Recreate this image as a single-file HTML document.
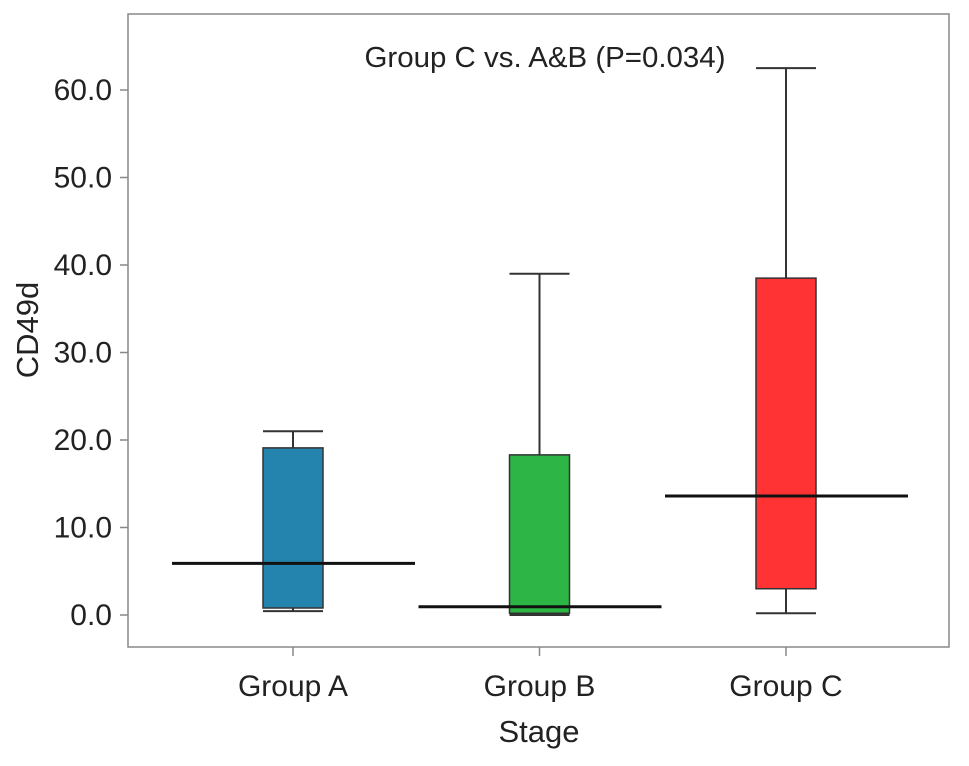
<!DOCTYPE html>
<html><head><meta charset="utf-8"><style>
body{margin:0;background:#fff;font-family:"Liberation Sans",sans-serif}
</style></head><body>
<svg id="c" width="969" height="761" xmlns="http://www.w3.org/2000/svg">
<rect x="128" y="14" width="821" height="633" fill="none" stroke="#888" stroke-width="1.5"/>
<text x="545" y="67" font-size="29" textLength="361" lengthAdjust="spacingAndGlyphs" text-anchor="middle" fill="#222">Group C vs. A&amp;B (P=0.034)</text>
<text x="539" y="742" font-size="31" text-anchor="middle" fill="#222">Stage</text>
<text transform="translate(38,330) rotate(-90)" font-size="31" text-anchor="middle" fill="#222">CD49d</text>
<g id="g"></g>
</svg>
<script>
const categories=["Group A","Group B","Group C"];
const mins=[0.45,0.0,0.2];
const q1s=[0.8,0.2,3.0];
const medians=[5.9,0.95,13.6];
const q3s=[19.1,18.3,38.5];
const maxs=[21.0,39.0,62.5];
const colors=["#2584ad","#2db546","#ff3333"];
const yTicks=[0,10,20,30,40,50,60];
const tickLabels=["0.0","10.0","20.0","30.0","40.0","50.0","60.0"];
const y=v=>615-v*8.75;
const x=i=>293+i*246.5;
const NS="http://www.w3.org/2000/svg";
const g=document.getElementById('g');
function mk(t,a){const e=document.createElementNS(NS,t);for(const k in a)e.setAttribute(k,a[k]);g.appendChild(e);return e;}
yTicks.forEach((v,i)=>{
 const t=mk('line',{x1:120,x2:128,y1:y(v),y2:y(v),stroke:'#888','stroke-width':1.5});
 
 
 const l=mk('text',{x:112,y:y(v)+10,'font-size':30,'text-anchor':'end',fill:'#222'});
 l.textContent=tickLabels[i];
 
 
});
categories.forEach((c,i)=>{
 const cx=x(i);
 const t=mk('line',{x1:cx,x2:cx,y1:647,y2:656,stroke:'#888','stroke-width':1.5});
 
 
 const l=mk('text',{x:cx,y:696,'font-size':30,'text-anchor':'middle',fill:'#222'});
 l.textContent=c;
 
 
 const w1=mk('line',{x1:cx,x2:cx,y1:y(maxs[i]),y2:y(q3s[i]),stroke:'#333','stroke-width':2});
 
 
 const c1=mk('line',{x1:cx-30,x2:cx+30,y1:y(maxs[i]),y2:y(maxs[i]),stroke:'#333','stroke-width':2});
 
 
 const w2=mk('line',{x1:cx,x2:cx,y1:y(q1s[i]),y2:y(mins[i]),stroke:'#333','stroke-width':2});
 
 
 const c2=mk('line',{x1:cx-30,x2:cx+30,y1:y(mins[i]),y2:y(mins[i]),stroke:'#333','stroke-width':2});
 
 
 const b=mk('rect',{x:cx-30,y:y(q3s[i]),width:60,height:y(q1s[i])-y(q3s[i]),fill:colors[i],stroke:'#333','stroke-width':1.5});
 
 
 const m=mk('line',{x1:cx-121,x2:cx+122,y1:y(medians[i]),y2:y(medians[i]),stroke:'#111','stroke-width':3});
 
 
});
</script>
</body></html>
